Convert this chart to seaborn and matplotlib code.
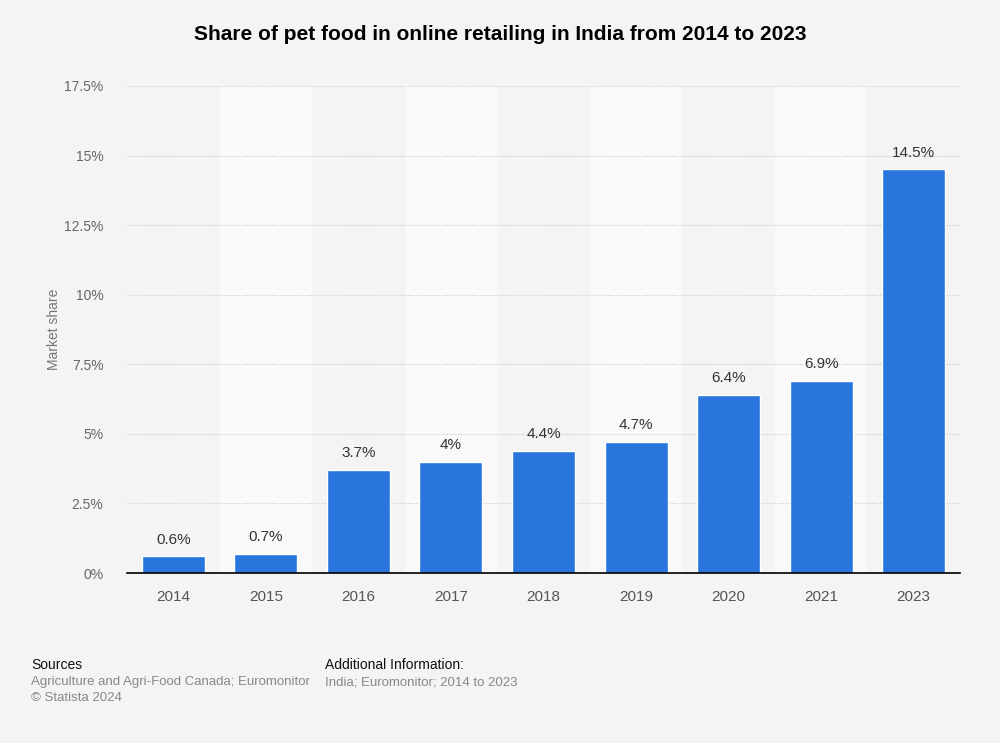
import pandas as pd
import numpy as np
import matplotlib.pyplot as plt
import seaborn as sns

# Data
years = ['2014', '2015', '2016', '2017', '2018', '2019', '2020', '2021', '2023']
share = [0.6, 0.7, 3.7, 4.0, 4.4, 4.7, 6.4, 6.9, 14.5]
share_labels = ['0.6%', '0.7%', '3.7%', '4%', '4.4%', '4.7%', '6.4%', '6.9%', '14.5%']
y_ticks = [0, 2.5, 5, 7.5, 10, 12.5, 15, 17.5]
y_tick_labels = ['0%', '2.5%', '5%', '7.5%', '10%', '12.5%', '15%', '17.5%']

df = pd.DataFrame({'Year': years, 'Share': share})

sns.set_style('white')
plt.rcParams['font.family'] = ['Liberation Sans', 'DejaVu Sans']

bg = '#f4f4f4'
fig = plt.figure(figsize=(10, 7.43), dpi=100, facecolor=bg)
ax = fig.add_axes([0.127, 0.2288, 0.833, 0.6555])
ax.set_facecolor(bg)

# alternating column bands
for i in range(len(years)):
    if i % 2 == 1:
        ax.axvspan(i - 0.5, i + 0.5, color='#f9f9f9', zorder=0, lw=0)

sns.barplot(data=df, x='Year', y='Share', color='#2875dd', width=0.68,
            saturation=1, ax=ax, zorder=3)

ax.set_ylim(0, 17.5)
ax.set_xlim(-0.5, len(years) - 0.5)
ax.set_yticks(y_ticks)
ax.set_yticklabels(y_tick_labels)
ax.yaxis.grid(True, linestyle=(0, (1, 1.5)), color='#c8c8c8', linewidth=0.8, zorder=1)
ax.set_axisbelow(True)

for s in ['top', 'right', 'left']:
    ax.spines[s].set_visible(False)
ax.spines['bottom'].set_color('#000000')
ax.spines['bottom'].set_linewidth(1.2)
ax.spines['bottom'].set_zorder(4)

ax.tick_params(axis='y', length=0, pad=17, labelsize=10, labelcolor='#666666')
ax.tick_params(axis='x', length=0, pad=12, labelsize=11, labelcolor='#555555')
ax.set_xlabel('')
ax.set_ylabel('Market share', fontsize=10, color='#777777')
ax.yaxis.set_label_coords(-0.079, 0.5)

for bar, lab in zip(ax.containers[0], share_labels):
    ax.text(bar.get_x() + bar.get_width() / 2, bar.get_height() + 0.35, lab,
            ha='center', va='bottom', fontsize=11, color='#333333', zorder=5)

fig.text(0.5, 0.953, 'Share of pet food in online retailing in India from 2014 to 2023',
         ha='center', va='center', fontsize=15, fontweight='bold', color='#000000')

fig.text(0.031, 0.105, 'Sources', fontsize=10, color='#111111', va='center')
fig.text(0.031, 0.082, 'Agriculture and Agri-Food Canada; Euromonitor', fontsize=9.5,
         color='#888888', va='center')
fig.text(0.031, 0.061, '\u00a9 Statista 2024', fontsize=9.5, color='#888888', va='center')
fig.text(0.325, 0.105, 'Additional Information:', fontsize=10, color='#111111', va='center')
fig.text(0.325, 0.082, 'India; Euromonitor; 2014 to 2023', fontsize=9.5,
         color='#888888', va='center')

fig.savefig('out.png', dpi=100, facecolor=bg)
